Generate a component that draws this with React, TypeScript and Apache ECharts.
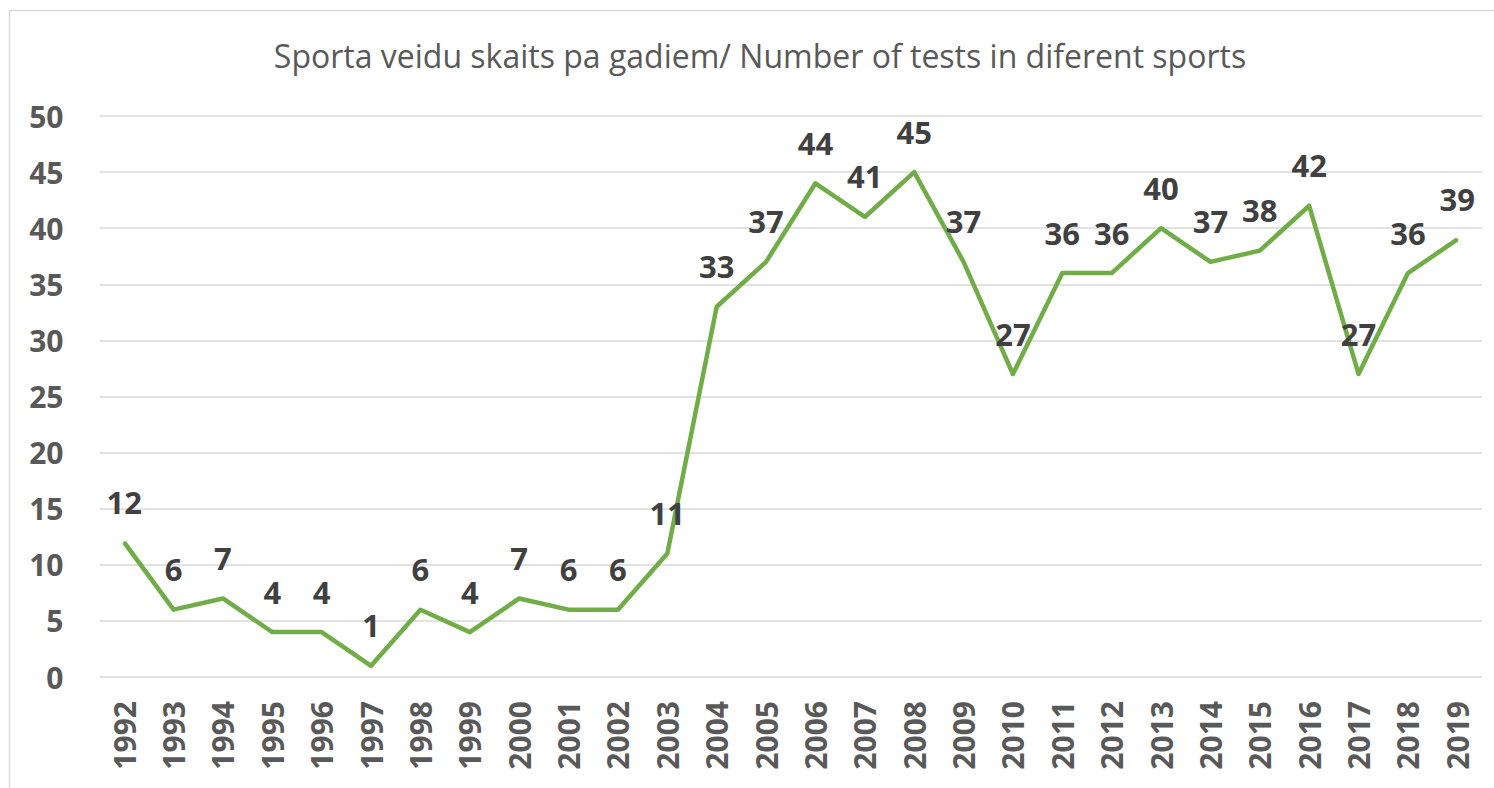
import React, { useEffect, useRef } from "react";
import * as echarts from "echarts";

const years = ["1992","1993","1994","1995","1996","1997","1998","1999","2000","2001","2002","2003","2004","2005","2006","2007","2008","2009","2010","2011","2012","2013","2014","2015","2016","2017","2018","2019"];
const counts = [12,6,7,4,4,1,6,4,7,6,6,11,33,37,44,41,45,37,27,36,36,40,37,38,42,27,36,39];
const titleText = "Sporta veidu skaits pa gadiem/ Number of tests in diferent sports";

export default function App() {
  const ref = useRef<HTMLDivElement>(null);
  useEffect(() => {
    document.body.style.margin = "0";
    const chart = echarts.init(ref.current!, null, { renderer: "svg" });
    const font = "'Open Sans', 'Liberation Sans', sans-serif";
    chart.setOption({
      animation: false,
      backgroundColor: "#ffffff",
      graphic: [
        {
          type: "rect",
          shape: { x: 9.5, y: 10.5, width: 1520, height: 800 },
          style: { fill: "none", stroke: "#d9d9d9", lineWidth: 1.5 },
          silent: true,
        },
        {
          type: "text",
          x: 760,
          y: 55,
          style: {
            text: titleText,
            fontFamily: font,
            fontSize: 32,
            fill: "#595959",
            align: "center",
            verticalAlign: "middle",
          },
        },
      ],
      grid: { left: 99.5, right: 12, top: 116, bottom: 111, containLabel: false },
      xAxis: {
        type: "category",
        data: years,
        boundaryGap: true,
        axisLine: { show: false },
        axisTick: { show: false },
        axisLabel: {
          rotate: 90,
          margin: 24,
          fontFamily: font,
          fontWeight: "bold",
          fontSize: 30,
          color: "#595959",
          interval: 0,
        },
      },
      yAxis: {
        type: "value",
        min: 0,
        max: 50,
        interval: 5,
        axisLine: { show: false },
        axisTick: { show: false },
        splitLine: { lineStyle: { color: "#d9d9d9", width: 1.5 } },
        axisLabel: {
          margin: 36,
          fontFamily: font,
          fontWeight: "bold",
          fontSize: 30,
          color: "#595959",
        },
      },
      series: [
        {
          type: "line",
          data: counts,
          symbol: "circle",
          symbolSize: 2,
          showSymbol: true,
          showAllSymbol: true,
          lineStyle: { color: "#70ad47", width: 4.5, join: "round" },
          itemStyle: { color: "#70ad47" },
          label: {
            show: true,
            position: "top",
            distance: 24,
            fontFamily: font,
            fontWeight: "bold",
            fontSize: 31,
            color: "#404040",
          },
          labelLayout: { hideOverlap: false },
        },
      ],
    });
    return () => chart.dispose();
  }, []);
  return <div ref={ref} style={{ position: "absolute", left: 0, top: 0, width: 1494, height: 788 }} />;
}
